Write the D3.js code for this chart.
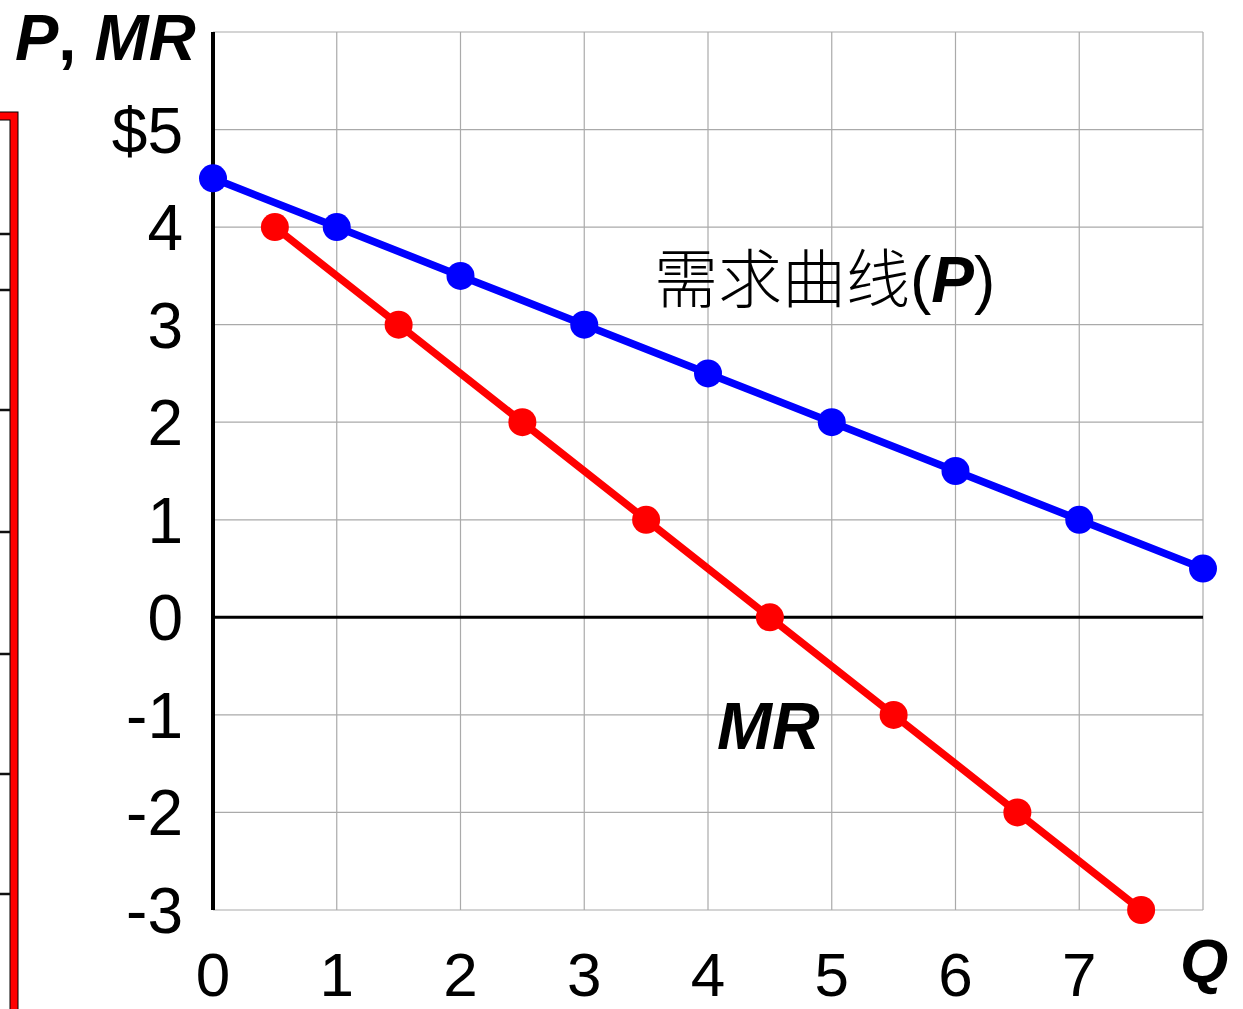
<!DOCTYPE html>
<html><head><meta charset="utf-8">
<script src="https://cdn.jsdelivr.net/npm/d3@7"></script>
<style>body{margin:0;background:#fff}svg{display:block}</style>
</head><body>
<script>
const qDemand = [0,1,2,3,4,5,6,7,8];
const price = [4.5,4,3.5,3,2.5,2,1.5,1,0.5];
const qMR = [0.5,1.5,2.5,3.5,4.5,5.5,6.5,7.5];
const mr = [4,3,2,1,0,-1,-2,-3];
const xTicks = [0,1,2,3,4,5,6,7,8];
const xTickLabels = ["0","1","2","3","4","5","6","7",""];
const yTicks = [-3,-2,-1,0,1,2,3,4,5,6];
const yTickLabels = {"-3":"-3","-2":"-2","-1":"-1","0":"0","1":"1","2":"2","3":"3","4":"4","5":"$5","6":""};

const W=1243,H=1009;
const svg=d3.select("body").append("svg").attr("width",W).attr("height",H);
const x=d3.scaleLinear().domain([0,8]).range([213,1203]);
const y=d3.scaleLinear().domain([-3,6]).range([910,32]);
const font="'Liberation Sans', Arial, sans-serif";

// left decoration (partial red frame)
const deco=svg.append("g");
deco.append("rect").attr("x",-40).attr("y",116).attr("width",54).attr("height",1000)
  .attr("fill","none").attr("stroke","#000").attr("stroke-width",9);
deco.append("rect").attr("x",-40).attr("y",116).attr("width",54).attr("height",1000)
  .attr("fill","none").attr("stroke","#ff0000").attr("stroke-width",7);
[234,290,410,532,654,774,894].forEach(v=>{
  deco.append("line").attr("x1",0).attr("x2",10).attr("y1",v).attr("y2",v)
   .attr("stroke","#111").attr("stroke-width",2.5);
});

// grid
const g=svg.append("g");
g.selectAll(".gx").data(xTicks).enter().append("line")
 .attr("x1",d=>x(d)).attr("x2",d=>x(d)).attr("y1",y(6)).attr("y2",y(-3))
 .attr("stroke","#aaa").attr("stroke-width",1.2);
g.selectAll(".gy").data(yTicks).enter().append("line")
 .attr("x1",x(0)).attr("x2",x(8)).attr("y1",d=>y(d)).attr("y2",d=>y(d))
 .attr("stroke","#aaa").attr("stroke-width",1.2);
// axes
g.append("line").attr("x1",x(0)).attr("x2",x(8)).attr("y1",y(0)).attr("y2",y(0))
 .attr("stroke","#000").attr("stroke-width",3);
g.append("line").attr("x1",x(0)).attr("x2",x(0)).attr("y1",y(6)).attr("y2",y(-3))
 .attr("stroke","#000").attr("stroke-width",4);

// tick labels
svg.selectAll(".yl").data(yTicks).enter().append("text")
 .attr("x",183).attr("y",d=>y(d)).attr("dy","0.36em").attr("text-anchor","end")
 .attr("font-family",font).attr("font-size",64).text(d=>yTickLabels[d]);
svg.selectAll(".xl").data(xTicks).enter().append("text")
 .attr("x",d=>x(d)).attr("y",996).attr("text-anchor","middle")
 .attr("font-family",font).attr("font-size",62).text((d,i)=>xTickLabels[i]);

// lines
const line=d3.line().x(d=>x(d[0])).y(d=>y(d[1]));
const dem=qDemand.map((q,i)=>[q,price[i]]);
const mrd=qMR.map((q,i)=>[q,mr[i]]);
svg.append("path").datum(dem).attr("d",line).attr("fill","none").attr("stroke","#0000ff").attr("stroke-width",7.5);
svg.selectAll(".dp").data(dem).enter().append("circle").attr("cx",d=>x(d[0])).attr("cy",d=>y(d[1])).attr("r",14).attr("fill","#0000ff");
svg.append("path").datum(mrd).attr("d",line).attr("fill","none").attr("stroke","#ff0000").attr("stroke-width",7.5);
svg.selectAll(".mp").data(mrd).enter().append("circle").attr("cx",d=>x(d[0])).attr("cy",d=>y(d[1])).attr("r",14).attr("fill","#ff0000");

// labels
const t1=svg.append("text").attr("x",15).attr("y",60).attr("font-family",font).attr("font-size",65)
 .attr("font-weight","bold").attr("font-style","italic");
t1.append("tspan").text("P");
t1.append("tspan").attr("font-style","normal").text(", ");
t1.append("tspan").text("MR");

svg.append("text").attr("x",1180).attr("y",982).attr("font-family",font).attr("font-size",62)
 .attr("font-weight","bold").attr("font-style","italic").text("Q");

svg.append("text").attr("x",717).attr("y",749).attr("font-family",font).attr("font-size",66)
 .attr("font-weight","bold").attr("font-style","italic").text("MR");

const t2=svg.append("text").attr("x",654).attr("y",302).attr("font-size",64);
t2.append("tspan").attr("font-family","'Noto Sans CJK SC', sans-serif").attr("font-weight",300).text("需求曲线");
t2.append("tspan").attr("font-family",font).text("(");
t2.append("tspan").attr("font-family",font).attr("font-weight","bold").attr("font-style","italic").text("P");
t2.append("tspan").attr("font-family",font).text(")");
</script>
</body></html>
